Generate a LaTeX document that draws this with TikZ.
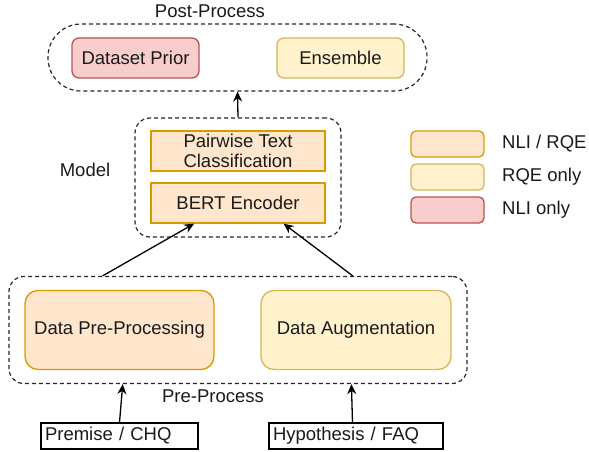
\documentclass[tikz,border=0pt]{standalone}
\usepackage{fontspec}
\setmainfont{Liberation Sans}
\usetikzlibrary{arrows.meta,calc}
\definecolor{orfill}{HTML}{FFE6CC}
\definecolor{ordraw}{HTML}{D79B00}
\definecolor{yefill}{HTML}{FFF2CC}
\definecolor{yedraw}{HTML}{D6B656}
\definecolor{refill}{HTML}{F8CECC}
\definecolor{redraw}{HTML}{B85450}
\definecolor{txt}{HTML}{1A1A1A}
\newcommand\fsz{\fontsize{18.5}{20}\selectfont}
\tikzset{
  base/.style={font=\fsz, text=txt, inner sep=0pt, align=center, line width=1.3pt},
  both/.style={base, fill=orfill, draw=ordraw},
  rqe/.style={base, fill=yefill, draw=yedraw},
  nli/.style={base, fill=refill, draw=redraw},
  group/.style={draw=black!85, dash pattern=on 4pt off 3pt, line width=1.2pt, inner sep=0pt},
  plain/.style={font=\fsz, text=txt, inner sep=0pt},
  inbox/.style={draw=black, line width=1.2pt, fill=white, font=\fsz, text=txt, inner xsep=4pt, inner ysep=0pt, align=left},
  arr/.style={-{Stealth[length=10pt,width=9pt]}, line width=1.3pt, black},
}
\begin{document}
\begin{tikzpicture}[x=1pt,y=-1pt]
\useasboundingbox (0,0) rectangle (589,452);
% groups
\node[group, rounded corners=33pt, minimum width=379pt, minimum height=67pt] (post) at (237.5,57.5) {};
\node[group, rounded corners=15pt, minimum width=206pt, minimum height=119pt] (model) at (238,177.5) {};
\node[group, rounded corners=15pt, minimum width=458pt, minimum height=107pt] (pre) at (238,330) {};
% post-process
\node[plain] (postlbl) at (210,11) {Post-Process};
\node[nli, rounded corners=7pt, minimum width=127pt, minimum height=40pt] (prior) at (135.5,58) {Dataset Prior};
\node[rqe, rounded corners=7pt, minimum width=127pt, minimum height=40pt] (ens) at (340.5,58) {Ensemble};
% model
\node[plain] (modellbl) at (85,170) {Model};
\node[both, minimum width=174pt, minimum height=40pt] (pair) at (238,151) {Pairwise Text\\Classification};
\node[both, minimum width=174pt, minimum height=40pt] (bert) at (238,203) {BERT Encoder};
% pre-process
\node[both, rounded corners=13pt, minimum width=189pt, minimum height=79pt] (dpp) at (119.5,330) {Data Pre-Processing};
\node[rqe, rounded corners=13pt, minimum width=190pt, minimum height=79pt] (da) at (356,330) {Data Augmentation};
\node[plain] (prelbl) at (213,396) {Pre-Process};
% inputs
\node[inbox, text width=149pt, minimum height=26pt] (prem) at (119.5,436) {Premise / CHQ};
\node[inbox, text width=166pt, minimum height=26pt] (hyp) at (356,436) {Hypothesis / FAQ};
% legend
\node[both, rounded corners=5pt, minimum width=73pt, minimum height=26pt] (lg1) at (447.5,144) {};
\node[rqe, rounded corners=5pt, minimum width=73pt, minimum height=26pt] (lg2) at (447.5,177) {};
\node[nli, rounded corners=5pt, minimum width=73pt, minimum height=26pt] (lg3) at (447.5,210) {};
\node[plain, anchor=west] (lt1) at (502,144) {NLI / RQE};
\node[plain, anchor=west] (lt2) at (502,177) {RQE only};
\node[plain, anchor=west] (lt3) at (502,210) {NLI only};
% arrows
\draw[arr] (model.north) -- (post.south);
\draw[arr] ($(pre.north west)!0.205!(pre.north east)$) -- ($(bert.south west)!0.25!(bert.south east)$);
\draw[arr] ($(pre.north west)!0.75!(pre.north east)$) -- ($(bert.south west)!0.76!(bert.south east)$);
\draw[arr] (prem.north) -- ($(pre.south west)!0.249!(pre.south east)$);
\draw[arr] ($(hyp.north west)!0.48!(hyp.north east)$) -- ($(pre.south west)!0.747!(pre.south east)$);
\end{tikzpicture}
\end{document}
